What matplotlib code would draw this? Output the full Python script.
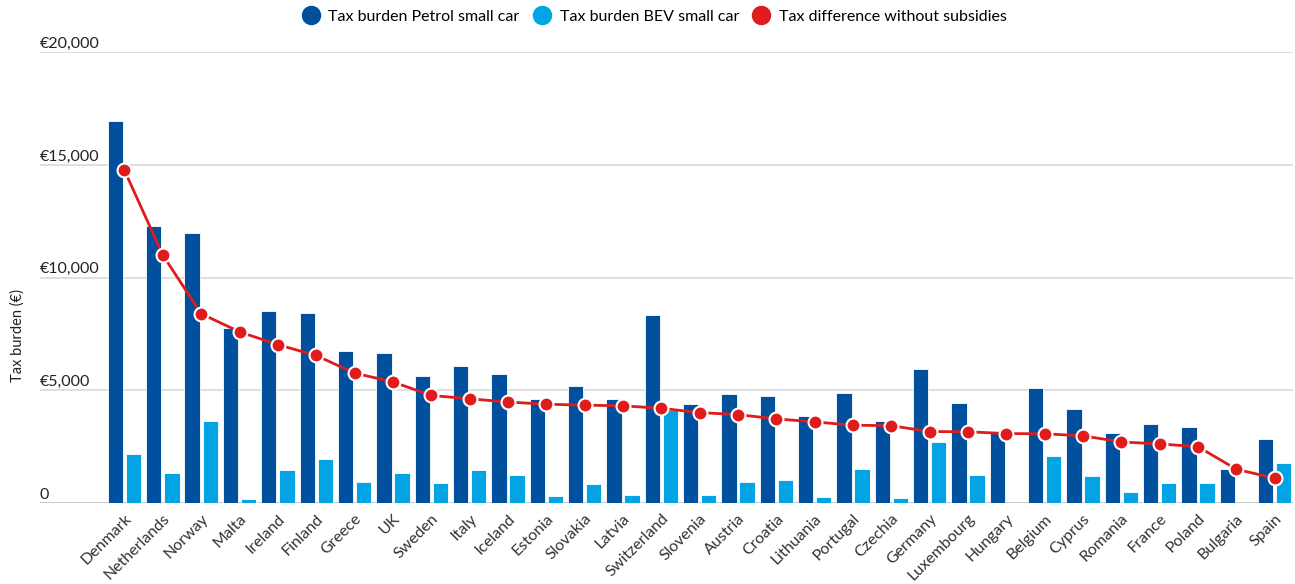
import numpy as np
import matplotlib.pyplot as plt
from matplotlib.lines import Line2D
from matplotlib.transforms import blended_transform_factory

plt.rcParams['font.family'] = ['Lato', 'DejaVu Sans']

countries = ["Denmark", "Netherlands", "Norway", "Malta", "Ireland", "Finland", "Greece",
             "UK", "Sweden", "Italy", "Iceland", "Estonia", "Slovakia", "Latvia",
             "Switzerland", "Slovenia", "Austria", "Croatia", "Lithuania", "Portugal",
             "Czechia", "Germany", "Luxembourg", "Hungary", "Belgium", "Cyprus",
             "Romania", "France", "Poland", "Bulgaria", "Spain"]
petrol = [16950, 12300, 12000, 7770, 8500, 8430, 6730, 6670, 5640, 6090, 5730, 4640,
          5200, 4640, 8330, 4390, 4850, 4750, 3870, 4900, 3650, 5950, 4440, 3130,
          5120, 4170, 3120, 3500, 3400, 1520, 2870]
bev = [2200, 1330, 3650, 200, 1480, 1950, 960, 1330, 900, 1480, 1260, 320,
       840, 380, 4140, 380, 960, 1020, 280, 1520, 240, 2720, 1260, 0,
       2100, 1210, 490, 900, 900, 0, 1790]
diff = [14750, 11000, 8400, 7600, 7030, 6550, 5770, 5380, 4780, 4630, 4490, 4390,
        4350, 4320, 4210, 4020, 3930, 3740, 3610, 3460, 3440, 3180, 3170, 3090,
        3080, 2990, 2720, 2630, 2510, 1510, 1110]
yticks = [0, 5000, 10000, 15000, 20000]
ytick_labels = ["0", "€5,000", "€10,000", "€15,000", "€20,000"]

c_petrol = "#00509E"
c_bev = "#02A4E3"
c_diff = "#E01B1B"

fig = plt.figure(figsize=(12.95, 5.84), dpi=100)
ax = fig.add_axes([40 / 1295, 1 - 503.3 / 584, 1253 / 1295, 451.3 / 584])

x = np.arange(len(countries))
w = 0.40
ax.bar(x - 0.235, petrol, w, color=c_petrol, edgecolor="white", linewidth=0.6, zorder=2)
ax.bar(x + 0.235, bev, w, color=c_bev, edgecolor="white", linewidth=0.6, zorder=2)
ax.plot(x, diff, color=c_diff, lw=2, marker="o", ms=10, mfc=c_diff, mec="white",
        mew=1.5, zorder=3)

ax.set_xlim(-2.204, 30.48)
ax.set_ylim(0, 20000)
for s in ax.spines.values():
    s.set_visible(False)
for t in yticks:
    ax.axhline(t, color="#bfbfbf" if t == 0 else "#d9d9d9", lw=1.2, zorder=1)

ax.set_yticks([])
trans = blended_transform_factory(ax.transAxes, ax.transData)
for t, lab in zip(yticks, ytick_labels):
    ax.text(0, t + 60, lab, transform=trans, ha="left", va="bottom",
            fontsize=11.5, color="#222222")

ax.set_xticks(x)
ax.set_xticklabels(countries, rotation=45, ha="right", rotation_mode="anchor",
                   fontsize=11.5, color="#333333")
ax.tick_params(axis="x", length=0, pad=6)

fig.text(18 / 1295, 1 - 335 / 584, "Tax burden (€)", rotation=90, ha="center",
         va="center", fontsize=10.5, color="#222222")

handles = [Line2D([], [], ls="none", marker="o", ms=13, color=c) for c in (c_petrol, c_bev, c_diff)]
fig.legend(handles, ["Tax burden Petrol small car", "Tax burden BEV small car",
                     "Tax difference without subsidies"],
           loc="center", bbox_to_anchor=(0.505, 1 - 17 / 584), ncol=3, frameon=False,
           fontsize=11.5, handletextpad=0.5, columnspacing=0.8, handlelength=1.2)

fig.savefig("out.png", dpi=100)
